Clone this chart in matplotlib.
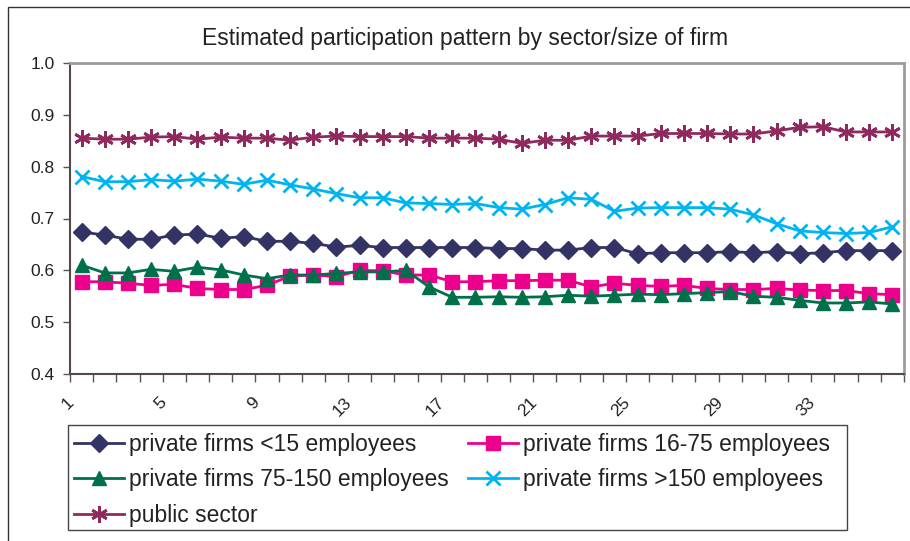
import numpy as np
from matplotlib import pyplot as plt
from matplotlib import transforms
from matplotlib.patches import Rectangle

plt.rcParams['font.family'] = ['Liberation Sans', 'DejaVu Sans']

# periods 1..36
period = list(range(1, 37))

small = [0.674, 0.668, 0.660, 0.660, 0.668, 0.670, 0.662, 0.665, 0.656, 0.656, 0.652, 0.645,
         0.648, 0.644, 0.644, 0.644, 0.644, 0.644, 0.642, 0.642, 0.639, 0.639, 0.644, 0.644,
         0.632, 0.634, 0.634, 0.634, 0.636, 0.634, 0.636, 0.632, 0.634, 0.638, 0.638, 0.638]
medium = [0.578, 0.578, 0.575, 0.571, 0.573, 0.565, 0.563, 0.563, 0.571, 0.589, 0.591, 0.588,
          0.600, 0.599, 0.591, 0.591, 0.578, 0.578, 0.580, 0.580, 0.581, 0.581, 0.568, 0.575,
          0.571, 0.569, 0.571, 0.565, 0.563, 0.563, 0.565, 0.562, 0.561, 0.561, 0.555, 0.553]
large = [0.610, 0.595, 0.595, 0.602, 0.598, 0.606, 0.601, 0.591, 0.584, 0.591, 0.591, 0.594,
         0.597, 0.597, 0.600, 0.568, 0.548, 0.548, 0.549, 0.548, 0.549, 0.552, 0.550, 0.552,
         0.554, 0.553, 0.555, 0.557, 0.559, 0.550, 0.548, 0.542, 0.537, 0.537, 0.539, 0.535]
huge = [0.781, 0.771, 0.771, 0.775, 0.772, 0.776, 0.772, 0.766, 0.774, 0.765, 0.757, 0.748,
        0.740, 0.740, 0.730, 0.729, 0.727, 0.729, 0.721, 0.718, 0.727, 0.740, 0.737, 0.714,
        0.720, 0.721, 0.721, 0.721, 0.718, 0.707, 0.690, 0.676, 0.673, 0.671, 0.673, 0.684]
public = [0.855, 0.853, 0.853, 0.857, 0.858, 0.853, 0.857, 0.855, 0.855, 0.851, 0.857, 0.859,
          0.858, 0.858, 0.858, 0.855, 0.855, 0.855, 0.853, 0.845, 0.851, 0.851, 0.859, 0.859,
          0.859, 0.864, 0.864, 0.864, 0.863, 0.863, 0.869, 0.876, 0.877, 0.867, 0.867, 0.867]

names = ['private firms <15 employees', 'private firms 16-75 employees',
         'private firms 75-150 employees', 'private firms >150 employees', 'public sector']

fig = plt.figure(figsize=(9.1, 5.41), dpi=100)
ax = fig.add_axes([70/910, 1 - 374/541, (904 - 70)/910, (374 - 63)/541])

# outer chart border (only left/top visible in the crop)
fig.patches.append(Rectangle((8/910, -0.2), 1.2, 1.2 - 7/541, transform=fig.transFigure,
                             fill=False, edgecolor='#333333', linewidth=1.0))
# legend box
fig.patches.append(Rectangle((68/910, 1 - 530/541), (847 - 68)/910, (530 - 425)/541,
                             transform=fig.transFigure, fill=False, edgecolor='#444444', linewidth=1.0))

h1, = ax.plot(period, small, color='#333366', marker='D', markersize=9, linewidth=2)
h2, = ax.plot(period, medium, color='#EC008C', marker='s', markersize=9.5, linewidth=2)
h3, = ax.plot(period, large, color='#00704A', marker='^', markersize=10.5, linewidth=2)
h4, = ax.plot(period, huge, color='#00B4EF', marker='x', markersize=10, markeredgewidth=2, linewidth=2)
h5, = ax.plot(period, public, color='#8E2A5E', marker=(6, 2, 0), markersize=12, markeredgewidth=2, linewidth=2)

ax.set_xlim(0.5, 36.5)
ax.set_ylim(0.4, 1.0)
ax.set_yticks(np.arange(0.4, 1.01, 0.1))
ax.set_yticklabels(['0.4', '0.5', '0.6', '0.7', '0.8', '0.9', '1.0'], fontsize=12.5, color='#222222')
ax.tick_params(axis='y', length=5, width=1, color='#555555', pad=6)

ax.set_xticks(np.arange(0.5, 37, 1))
ax.set_xticklabels([])
ax.tick_params(axis='x', which='major', length=6, width=1, color='#555555')
ax.set_xticks(list(range(1, 37, 4)), minor=True)
ax.set_xticklabels([str(p) for p in range(1, 37, 4)], minor=True, fontsize=12.5,
                   rotation=45, ha='right', va='center', rotation_mode='anchor', color='#222222')
ax.tick_params(axis='x', which='minor', length=0, pad=19)
off = transforms.ScaledTranslation(-10/100, 0, fig.dpi_scale_trans)
for lab in ax.xaxis.get_minorticklabels():
    lab.set_transform(lab.get_transform() + off)

for s in ['top', 'right']:
    ax.spines[s].set_color('#A09A98')
    ax.spines[s].set_linewidth(2)
for s in ['left', 'bottom']:
    ax.spines[s].set_color('#554848')
    ax.spines[s].set_linewidth(1.5)

fig.text(465/910, 1 - 39/541, 'Estimated participation pattern by sector/size of firm',
         ha='center', va='center', fontsize=16.5, color='#222222')

leg = fig.legend([h1, h3, h5, h2, h4], [names[0], names[2], names[4], names[1], names[3]],
                 ncol=2, loc='upper left', bbox_to_anchor=(69/910, 1 - 428/541),
                 fontsize=16.5, frameon=False,
                 handlelength=2.2, handletextpad=0.2, columnspacing=0.85,
                 labelspacing=0.55, borderpad=0.2, borderaxespad=0)
for t in leg.get_texts():
    t.set_color('#222222')

plt.savefig('out.png', dpi=100)
